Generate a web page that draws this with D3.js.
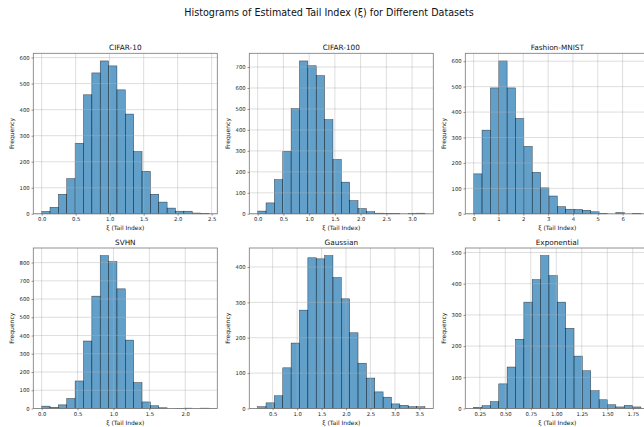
<!DOCTYPE html>
<html>
<head>
<meta charset="utf-8">
<script src="https://cdn.jsdelivr.net/npm/d3@7"></script>
<style>
  html, body { margin: 0; padding: 0; background: #fff; }
  svg { display: block; font-family: "DejaVu Sans", sans-serif; }
  .tick text { fill: #222; }
</style>
</head>
<body>
<div id="chart"></div>
<script>
const width = 644
const height = 427

// --- Data (20 bins per dataset) ---
const datasetNames = ["CIFAR-10", "CIFAR-100", "Fashion-MNIST", "SVHN", "Gaussian", "Exponential"]

// [min, max] of the estimated xi values, i.e. outer edges of the 20 bins
const binRanges = [
    [0.0, 2.46],
    [0.0, 3.25],
    [0.0, 6.74],
    [0.0, 2.33],
    [0.193, 3.615],
    [0.19, 1.83],
]

const cifar10Counts = [9, 25, 75, 135, 271, 457, 541, 587, 568, 476, 383, 239, 163, 75, 45, 22, 10, 10, 3, 2]
const cifar100Counts = [13, 52, 163, 298, 502, 729, 706, 659, 449, 259, 151, 63, 25, 10, 3, 2, 1, 0, 1, 3]
const fashionCounts = [157, 329, 495, 601, 495, 375, 265, 163, 102, 70, 28, 18, 17, 14, 8, 2, 0, 5, 0, 2]
const svhnCounts = [13, 7, 20, 55, 151, 370, 616, 838, 805, 656, 375, 142, 36, 15, 4, 0, 1, 2, 0, 2]
const gaussianCounts = [5, 16, 36, 115, 185, 278, 426, 423, 432, 370, 310, 214, 128, 86, 47, 32, 13, 9, 5, 5]
const exponentialCounts = [4, 9, 22, 79, 133, 222, 341, 413, 490, 426, 341, 257, 168, 121, 57, 28, 12, 5, 10, 5]

const allCounts = [cifar10Counts, cifar100Counts, fashionCounts, svhnCounts, gaussianCounts, exponentialCounts]

const xTickValues = [
    [0.0, 0.5, 1.0, 1.5, 2.0, 2.5],
    [0.0, 0.5, 1.0, 1.5, 2.0, 2.5, 3.0],
    [0, 1, 2, 3, 4, 5, 6],
    [0.0, 0.5, 1.0, 1.5, 2.0],
    [0.5, 1.0, 1.5, 2.0, 2.5, 3.0, 3.5],
    [0.25, 0.5, 0.75, 1.0, 1.25, 1.5, 1.75],
]
const xTickFormats = [".1f", ".1f", "d", ".1f", ".1f", ".2f"]
const yTickMax = [600, 700, 600, 800, 400, 500]

const suptitle = "Histograms of Estimated Tail Index (ξ) for Different Datasets"
const xLabel = "ξ (Tail Index)"
const yLabel = "Frequency"

// --- Layout ---
const colLeft = [33.3, 249.3, 465.3]
const rowTop = [53.3, 248]
const panelW = 184
const panelH = 160.5

const barFill = "#1f77b4"
const gridColor = "#b0b0b0"

const svg = d3.select("#chart").append("svg").attr("width", width).attr("height", height)
svg.append("rect").attr("width", width).attr("height", height).attr("fill", "#fff")

svg.append("text")
    .attr("x", 329)
    .attr("y", 15.5)
    .attr("text-anchor", "middle")
    .attr("font-size", 9.6)
    .attr("fill", "#111")
    .text(suptitle)

datasetNames.forEach((name, i) => {
    const counts = allCounts[i]
    const [lo, hi] = binRanges[i]
    const nBins = counts.length
    const binW = (hi - lo) / nBins
    const pad = (hi - lo) * 0.05
    const bins = counts.map((c, k) => ({ x0: lo + k * binW, x1: lo + (k + 1) * binW, count: c }))

    const left = colLeft[i % 3]
    const top = rowTop[Math.floor(i / 3)]

    const x = d3.scaleLinear().domain([lo - pad, hi + pad]).range([0, panelW])
    const y = d3.scaleLinear().domain([0, d3.max(counts) * 1.05]).range([panelH, 0])
    const yTicks = d3.range(0, yTickMax[i] + 1, 100)

    const g = svg.append("g").attr("transform", `translate(${left},${top})`)

    // bars
    g.selectAll(".bar")
        .data(bins)
        .enter()
        .append("rect")
        .attr("class", "bar")
        .attr("x", (d) => x(d.x0))
        .attr("width", (d) => x(d.x1) - x(d.x0))
        .attr("y", (d) => y(d.count))
        .attr("height", (d) => panelH - y(d.count))
        .attr("fill", barFill)
        .attr("fill-opacity", 0.7)
        .attr("stroke", "#000")
        .attr("stroke-opacity", 0.7)
        .attr("stroke-width", 0.5)

    // grid lines (drawn over the bars, like matplotlib's default)
    g.selectAll(".vgrid")
        .data(xTickValues[i])
        .enter()
        .append("line")
        .attr("x1", (d) => x(d))
        .attr("x2", (d) => x(d))
        .attr("y1", 0)
        .attr("y2", panelH)
        .attr("stroke", gridColor)
        .attr("stroke-opacity", 0.7)
        .attr("stroke-width", 0.6)

    g.selectAll(".hgrid")
        .data(yTicks)
        .enter()
        .append("line")
        .attr("x1", 0)
        .attr("x2", panelW)
        .attr("y1", (d) => y(d))
        .attr("y2", (d) => y(d))
        .attr("stroke", gridColor)
        .attr("stroke-opacity", 0.7)
        .attr("stroke-width", 0.6)

    // frame
    g.append("rect")
        .attr("width", panelW)
        .attr("height", panelH)
        .attr("fill", "none")
        .attr("stroke", "#777")
        .attr("stroke-width", 0.8)

    const xAxis = d3.axisBottom(x).tickValues(xTickValues[i]).tickFormat(d3.format(xTickFormats[i])).tickSize(1.8).tickPadding(1.8)
    const yAxis = d3.axisLeft(y).tickValues(yTicks).tickFormat(d3.format("d")).tickSize(1.8).tickPadding(1.8)

    const gx = g.append("g").attr("transform", `translate(0,${panelH})`).call(xAxis)
    const gy = g.append("g").call(yAxis)
    ;[gx, gy].forEach((ax) => {
        ax.select(".domain").remove()
        ax.selectAll(".tick line").attr("stroke", "#333").attr("stroke-width", 0.5)
        ax.selectAll(".tick text").attr("font-size", 5.3).attr("font-family", "DejaVu Sans")
    })

    g.append("text")
        .attr("x", panelW / 2)
        .attr("y", -3.5)
        .attr("text-anchor", "middle")
        .attr("font-size", 7.3)
        .attr("fill", "#111")
        .text(name)

    g.append("text")
        .attr("x", panelW / 2)
        .attr("y", panelH + 16.5)
        .attr("text-anchor", "middle")
        .attr("font-size", 6)
        .attr("fill", "#111")
        .text(xLabel)

    g.append("text")
        .attr("transform", `translate(-19.5,${panelH / 2}) rotate(-90)`)
        .attr("text-anchor", "middle")
        .attr("font-size", 6)
        .attr("fill", "#111")
        .text(yLabel)
})
</script>
</body>
</html>
